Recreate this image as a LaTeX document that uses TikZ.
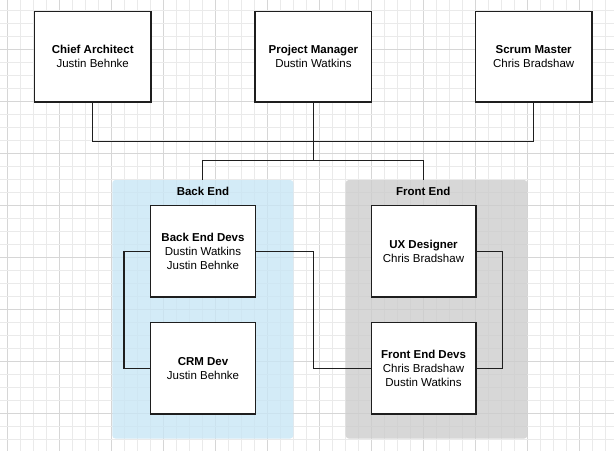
\documentclass[tikz,border=0pt]{standalone}
\usepackage{fontspec}
\setmainfont{Liberation Sans}
\definecolor{gridminor}{RGB}{234,234,234}
\definecolor{gridmajor}{RGB}{214,214,214}
\definecolor{becol}{RGB}{201,230,245}
\definecolor{fecol}{RGB}{205,205,205}
\definecolor{boxc}{RGB}{30,30,30}
\definecolor{linec}{RGB}{30,30,30}
\begin{document}
\begin{tikzpicture}[x=1pt,y=-1pt,
  txt/.style={font=\fontsize{11.5}{14}\selectfont, align=center, inner sep=0pt},
  box/.style={txt, draw=boxc, line width=1.4pt, fill=white, minimum width=116.7pt, minimum height=90.3pt},
  sbox/.style={txt, draw=boxc, line width=1.4pt, fill=white, minimum width=104.6pt, minimum height=91.3pt},
  cont/.style={rounded corners=3pt, minimum width=181pt, minimum height=258.5pt, inner sep=0pt, fill opacity=0.8},
  ctitle/.style={txt, font=\fontsize{11.5}{14}\selectfont\bfseries},
  conn/.style={draw=linec, line width=1.2pt}]
\useasboundingbox (0,0) rectangle (614,451);
\fill[white] (0,0) rectangle (614,451);
% grid
\foreach \i in {0,...,46} {
  \pgfmathtruncatemacro{\m}{mod(\i,4)}
  \ifnum\m=0
    \draw[gridmajor, line width=0.8pt] ({7.7+13*\i},0) -- ({7.7+13*\i},451);
  \else
    \draw[gridminor, line width=0.8pt] ({7.7+13*\i},0) -- ({7.7+13*\i},451);
  \fi
}
\foreach \j in {0,...,34} {
  \pgfmathtruncatemacro{\m}{mod(\j,4)}
  \ifnum\m=3
    \draw[gridmajor, line width=0.8pt] (0,{10+13*\j}) -- (614,{10+13*\j});
  \else
    \draw[gridminor, line width=0.8pt] (0,{10+13*\j}) -- (614,{10+13*\j});
  \fi
}
% containers
\node[cont, fill=becol] (be) at (202.8,309.25) {};
\node[cont, fill=fecol, minimum width=181.6pt] (fe) at (436.5,309.25) {};
\node[ctitle] (bet) at (203,191) {Back End};
\node[ctitle] (fet) at (423.3,191) {Front End};
% top boxes
\node[box] (ca) at (92.7,56.85) {\textbf{Chief Architect}\\Justin Behnke};
\node[box] (pm) at (313.4,56.85) {\textbf{Project Manager}\\Dustin Watkins};
\node[box] (sm) at (533.7,56.85) {\textbf{Scrum Master}\\Chris Bradshaw};
% lower boxes
\node[sbox] (bed) at (203,251.35) {\textbf{Back End Devs}\\Dustin Watkins\\Justin Behnke};
\node[sbox] (crm) at (203,368.2) {\textbf{CRM Dev}\\Justin Behnke};
\node[sbox] (ux) at (423.5,251.35) {\textbf{UX Designer}\\Chris Bradshaw};
\node[sbox] (fed) at (423.5,368.2) {\textbf{Front End Devs}\\Chris Bradshaw\\Dustin Watkins};
% connectors
\coordinate (j1) at (313.4,141.3);
\coordinate (j2) at (313.4,160.7);
\draw[conn] (ca.south) |- (j1) -| (sm.south);
\draw[conn] (pm.south) -- (j2);
\draw[conn] (be.north) |- (j2) -| (fet |- fe.north);
\draw[conn] (bed.west) -- ++(-26,0) |- (crm.west);
\draw[conn] (bed.east) -- ++(57.7,0) |- (fed.west);
\draw[conn] (ux.east) -- ++(26,0) |- (fed.east);
\end{tikzpicture}
\end{document}
